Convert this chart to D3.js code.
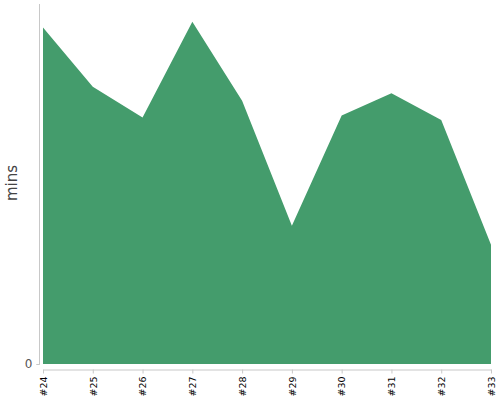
<!DOCTYPE html>
<html><head><meta charset="utf-8">
<script src="https://cdn.jsdelivr.net/npm/d3@7"></script>
<style>body{margin:0;background:#fff}svg{display:block}</style>
</head><body>
<script>
const categories = ["#24","#25","#26","#27","#28","#29","#30","#31","#32","#33"];
const values = [93.5, 77.0, 68.5, 95.1, 73.1, 38.4, 69.0, 75.2, 67.8, 33.1];
const yTicks = [0];
const yLabel = "mins";

const W = 500, H = 400;
const svg = d3.select("body").append("svg").attr("width", W).attr("height", H);
const font = "DejaVu Sans, sans-serif";

const x = d3.scalePoint().domain(categories).range([43, 491]);
const y = d3.scaleLinear().domain([0, 100]).range([364, 4]);

const data = categories.map((c, i) => ({c, v: values[i]}));
const area = d3.area().x(d => x(d.c)).y0(y(0)).y1(d => y(d.v));
svg.append("path").datum(data).attr("d", area).attr("fill", "#449c6c");

// y axis
const ya = svg.append("g").attr("transform", "translate(39.5,0)")
  .call(d3.axisLeft(y).tickValues(yTicks).tickSize(3).tickPadding(4));
ya.select(".domain").attr("stroke", "#c8c8c8").attr("d", "M-3,364.5H0V4");
ya.selectAll(".tick line").attr("stroke", "#c8c8c8");
ya.selectAll("text").attr("font-family", font).attr("font-size", 12).attr("fill", "#555");

// x axis
const xa = svg.append("g").attr("transform", "translate(0,369.5)")
  .call(d3.axisBottom(x).tickSize(4).tickSizeOuter(0));
xa.select(".domain").attr("stroke", "#c8c8c8");
xa.selectAll(".tick line").attr("stroke", "#c8c8c8");
xa.selectAll("text").attr("font-family", font).attr("font-size", 9.5).attr("fill", "#000")
  .attr("transform", "rotate(-90)").attr("text-anchor", "end")
  .attr("x", -7).attr("y", 0).attr("dy", "0.35em");

svg.append("text").attr("transform", "translate(17,183) rotate(-90)")
  .attr("text-anchor", "middle").attr("font-family", font).attr("font-size", 15)
  .attr("fill", "#444").text(yLabel);
</script>
</body></html>
